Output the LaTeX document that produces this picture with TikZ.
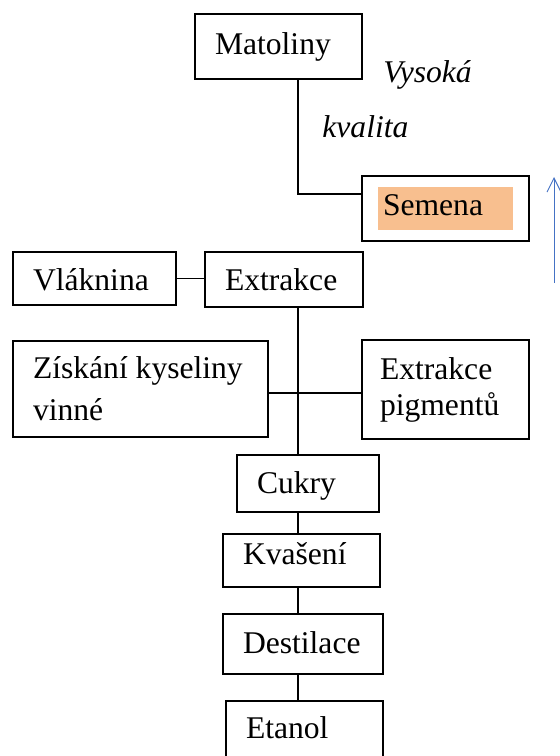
\documentclass[tikz,border=0pt]{standalone}
\usepackage{fontspec}
\setmainfont{Liberation Serif}
\usepackage{tikz}
\usetikzlibrary{arrows.meta}
\usepackage{xcolor}
\definecolor{ink}{HTML}{000000}
\definecolor{seedhl}{HTML}{F8BF8F}
\definecolor{upc}{HTML}{4472C4}

\begin{document}
\begin{tikzpicture}[x=0.5pt, y=-0.5pt,
    txt/.style={font=\fontsize{15.8pt}{21pt}\selectfont},
    box/.style={txt, draw=ink, line width=0.7pt, inner xsep=10pt, inner ysep=0pt, align=flush left},
    oneline/.style={box, text height=#1, text depth=3pt},
    link/.style={draw=ink, line width=0.7pt}]
  \useasboundingbox (0,0) rectangle (560,756);
  \clip (0,0) rectangle (560,756);
  % top: pomace and seeds
  \node[oneline=11pt, text width=63.5pt, minimum height=32.5pt] (mat) at (278.5,46.5) {Matoliny};
  \node[box, text width=63.5pt, minimum height=32.5pt] (sem) at (445.5,208.5) {};
  \node[txt, fill=seedhl, inner xsep=2.5pt, inner ysep=0pt, text width=62.5pt, minimum height=21.5pt,
        text height=9.5pt, text depth=3pt, align=flush left] (semtxt) at (sem) {Semena};
  \node[txt, anchor=base west, inner sep=0pt] (hq1) at (383,82) {\textit{Vysoká}};
  \node[txt, anchor=base west, inner sep=0pt] (hq2) at (322,137) {\textit{kvalita}};
  % middle
  \node[oneline=14.5pt, text width=61.5pt, minimum height=26.5pt] (vla) at (94.5,278.5) {Vláknina};
  \node[oneline=13.5pt, text width=59pt, minimum height=27.5pt] (ext) at (284,279.5) {Extrakce};
  \node[box, text width=107.5pt, minimum height=48pt] (zis) at (140.5,389) {Získání kyseliny\\vinné};
  \node[box, font=\fontsize{15.8pt}{18pt}\selectfont, inner xsep=9pt, text width=65.5pt, minimum height=49.5pt] (pig) at (445.5,389.5) {Extrakce\\pigmentů};
  % bottom chain
  \node[oneline=12.5pt, text width=51pt, minimum height=28.5pt] (cuk) at (308,483.5) {Cukry};
  \node[oneline=6.5pt, text width=58.5pt, minimum height=26.5pt] (kva) at (301.5,560.5) {Kvašení};
  \node[oneline=12pt, text width=60pt, minimum height=30pt] (des) at (303,644) {Destilace};
  \node[oneline=10pt, text width=58.5pt, minimum height=30pt] (eta) at (304.5,731) {Etanol};
  % connectors
  \coordinate (trunk) at (298,0);
  \coordinate (bend) at (298,194);
  \coordinate (cross) at (298,393);
  \draw[link] (mat.south -| bend) -- (bend) -- (bend -| sem.west);
  \draw[link] (vla.east) -- (vla.east -| ext.west);
  \draw[link] (ext.south -| trunk) -- (cuk.north -| trunk);
  \draw[link] (cross -| zis.east) -- (cross -| pig.west);
  \foreach \a/\b in {cuk/kva,kva/des,des/eta}
    \draw[link] (\a.south -| trunk) -- (\b.north -| trunk);
  \coordinate (up0) at (554,283);
  \coordinate (up1) at (554,177);
  \draw[upc, line width=0.5pt, -{Straight Barb[length=7pt,width=7pt]}] (up0) -- (up1);
\end{tikzpicture}
\end{document}
